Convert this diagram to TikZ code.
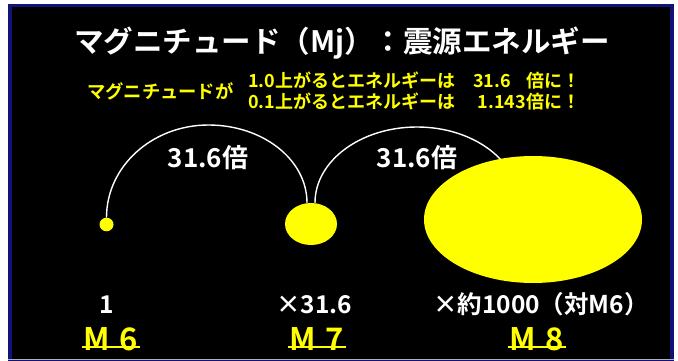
\documentclass[tikz,border=0pt]{standalone}
\usepackage{fontspec}
\setmainfont{Noto Sans CJK JP}[BoldFont={Noto Sans CJK JP Bold}]
\usetikzlibrary{shapes.geometric}
\definecolor{navyb}{RGB}{18,18,120}
\definecolor{yel}{RGB}{255,255,0}
\begin{document}
\begin{tikzpicture}[x=1pt,y=-1pt,
  every node/.style={inner sep=0pt},
  dot/.style={ellipse, fill=yel, draw=none, inner sep=0pt},
  arcline/.style={white, line width=1.4pt},
  titletext/.style={white, font=\bfseries\fontsize{29.5}{29.5}\selectfont},
  subtext/.style={yel, font=\bfseries\fontsize{18}{20}\selectfont},
  ratiotext/.style={white, font=\bfseries\fontsize{26}{26}\selectfont},
  valtext/.style={white, font=\bfseries\fontsize{24.5}{24.5}\selectfont},
  magtext/.style={yel, font=\bfseries\fontsize{31}{31}\selectfont},
  uline/.style={yel, line width=2pt}]
\useasboundingbox (0,0) rectangle (678,361);
\fill[white] (0,0) rectangle (678,361);
\fill[navyb] (8,4) rectangle (674,361);
\fill[black] (12,7.5) rectangle (670,359);
\draw[gray!60, line width=1pt] (8,359.5) -- (674,359.5);

% title
\node[titletext, anchor=base] (title) at (342,53) {マグニチュード（Mj）：震源エネルギー};

% subtitle
\node[subtext, anchor=base west] (lead) at (87,99) {\fontsize{18.3}{20}\selectfont マグニチュードが};
\node[subtext, anchor=base west] (l1) at (248,88) {\makebox[332pt][l]{1.0上がるとエネルギーは\hspace{1em}31.6\hfill 倍に！}};
\node[subtext, anchor=base west] (l2) at (248,108.5) {\makebox[332pt][l]{0.1上がるとエネルギーは\hfill 1.143倍に！}};

% dots
\node[dot, minimum width=14pt, minimum height=13.5pt] (d6) at (106.5,224.5) {};
\node[dot, minimum width=52pt, minimum height=42pt] (d7) at (311,224) {};

% arcs
\coordinate (t1) at (208.5,125);
\coordinate (t2) at (417,127);
\coordinate (e2) at (519,203);
\draw[arcline] (d6.north) .. controls +(0,-51.2) and +(-56.3,0) .. (t1)
  .. controls +(54.4,0) and +(0,-43.1) .. ([xshift=-4pt]d7.north);
\draw[arcline] ([xshift=4pt]d7.north) .. controls +(0,-42) and +(-56.3,0) .. (t2)
  .. controls +(56.3,0) and +(0,-42) .. (e2);

\node[dot, minimum width=218pt, minimum height=127pt] (d8) at (533,219.5) {};

% ratio labels
\node[ratiotext, anchor=base] (r1) at (208,167) {31.6倍};
\node[ratiotext, anchor=base] (r2) at (417,167) {31.6倍};

% values
\node[valtext, anchor=base] (v6) at (107,313) {1};
\node[valtext, anchor=base] (v7) at (314,313) {×31.6};
\node[valtext, anchor=base] (v8) at (541,313) {×約1000（対M6）};

% magnitudes
\node[magtext, anchor=base] (m6) at (111,350) {M\hspace{0.3em}6};
\node[magtext, anchor=base] (m7) at (317,350) {M\hspace{0.3em}7};
\node[magtext, anchor=base] (m8) at (537,350) {M\hspace{0.3em}8};
\foreach \m in {m6,m7,m8}
  \draw[uline] ([xshift=-1.5pt,yshift=3pt]\m.base west) -- ([xshift=1.5pt,yshift=3pt]\m.base east);
\end{tikzpicture}
\end{document}
